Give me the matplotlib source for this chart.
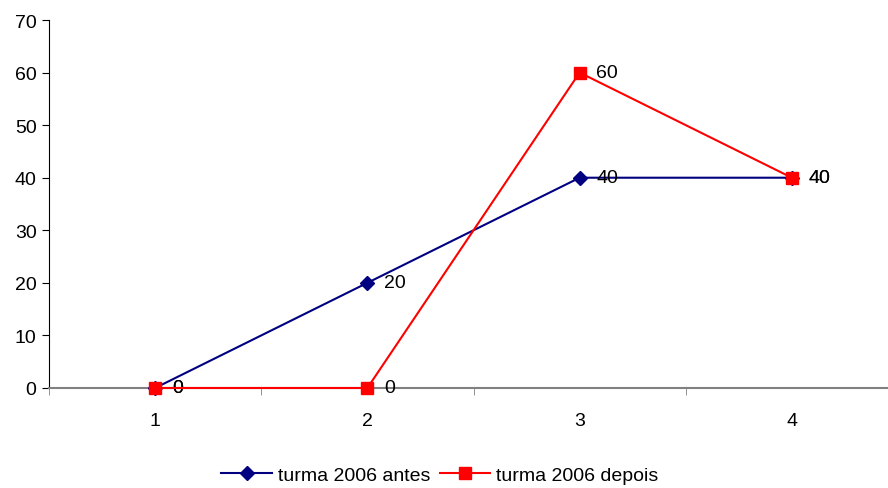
import matplotlib.pyplot as plt

plt.rcParams['font.family'] = ['Liberation Sans', 'DejaVu Sans']

categories = [1, 2, 3, 4]
antes = [0, 20, 40, 40]
depois = [0, 0, 60, 40]
yticks = [0, 10, 20, 30, 40, 50, 60, 70]

fig = plt.figure(figsize=(8.88, 4.89), dpi=100)
ax = fig.add_axes([49 / 888, 100 / 489, 849 / 888, 368 / 489])

ax.plot(categories, antes, color='#000080', lw=1.5, marker='D', ms=7,
        label='turma 2006 antes', clip_on=False, zorder=3)
ax.plot(categories, depois, color='#ff0000', lw=1.5, marker='s', ms=8,
        label='turma 2006 depois', clip_on=False, zorder=4)

for x, y in zip(categories, antes):
    ax.annotate(str(y), (x, y), xytext=(12, 0), textcoords='offset points',
                va='center', ha='left', fontsize=14)
for x, y in zip(categories, depois):
    ax.annotate(str(y), (x, y), xytext=(12, 0), textcoords='offset points',
                va='center', ha='left', fontsize=14)

ax.set_xlim(0.5, 4.5)
ax.set_ylim(0, 70)
ax.set_yticks(yticks)
ax.tick_params(axis='y', direction='out', length=5, labelsize=14, pad=4)

# category labels centred, tick marks on the boundaries
ax.set_xticks(categories)
ax.set_xticklabels([str(c) for c in categories])
ax.set_xticks([0.5, 1.5, 2.5, 3.5, 4.5], minor=True)
ax.tick_params(axis='x', which='major', length=0, labelsize=14, pad=17)
ax.tick_params(axis='x', which='minor', length=5, color='#808080', direction='out')

for s in ['top', 'right']:
    ax.spines[s].set_visible(False)
ax.spines['bottom'].set_color('#808080')
ax.spines['bottom'].set_linewidth(1.5)
ax.spines['left'].set_color('black')

ax.legend(loc='center', bbox_to_anchor=(440 / 888, 13 / 489),
          bbox_transform=fig.transFigure, ncol=2, frameon=False,
          fontsize=14, handlelength=2.6, handletextpad=0.3, columnspacing=0.5)

fig.savefig('out.png', dpi=100)
